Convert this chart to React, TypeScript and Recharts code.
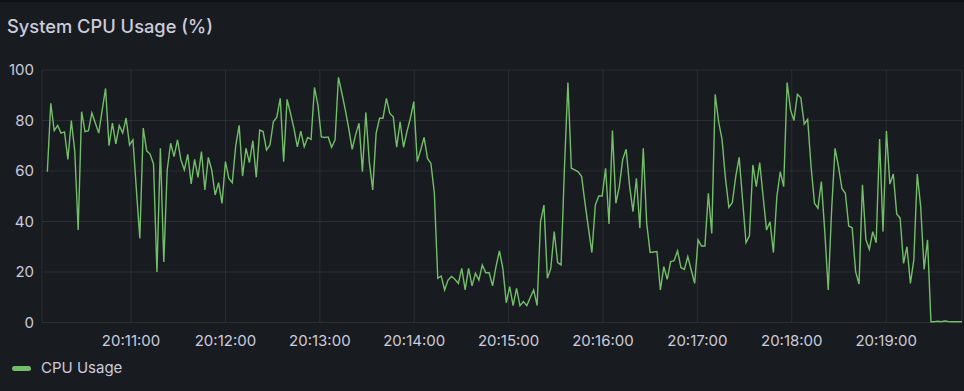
import React from "react";
import { LineChart, Line, XAxis, YAxis, CartesianGrid } from "recharts";

const cpuUsage = [
  59.7, 86.8, 76, 78, 75, 75.5, 64.6, 80, 68, 36.6, 83.5, 75.6, 76, 83, 79, 75, 84, 92.7, 70, 79,
  70.7, 78, 75, 81, 70.3, 72.3, 52.5, 33.3, 77, 68, 66.7, 62.8, 20, 69, 24, 60.4, 71, 65.7, 72.3, 64.4,
  60.4, 66.6, 54.9, 64.6, 57.5, 67.7, 52.5, 65.4, 60.4, 50.5, 55.4, 47.2, 63.7, 57.1, 55.4, 69.9, 78.1, 58, 69, 63.3,
  72, 57.5, 76.2, 75.6, 68.3, 70.3, 79.5, 81.3, 88.8, 63.7, 88.4, 82.8, 76.9, 69.6, 75.8, 69.6, 73.3, 72.5, 93.1, 86.1,
  73.5, 73.3, 73.5, 69.4, 72.3, 97.1, 90.8, 84.2, 76.9, 68.6, 74.3, 78.9, 59.7, 83.2, 63.7, 52.5, 74.9, 80.9, 80.9, 88.8,
  82.8, 81.5, 69.4, 79.5, 69.4, 75.6, 80.9, 87.5, 63.7, 68.3, 73.3, 65, 63, 51.2, 17.5, 18.4, 12.9, 16.8, 18.2, 17.1,
  15.5, 21.4, 12.9, 21.4, 14.5, 19.5, 16.8, 22.8, 19.7, 19.7, 14.5, 22.1, 28.4, 21.4, 7.8, 14.2, 6.7, 13.5, 6.7, 8.3,
  6.7, 9.9, 12.9, 6.7, 39.9, 46.5, 17.5, 21.4, 36, 23.7, 22.8, 61.7, 95, 61.1, 60.4, 59.7, 57.8, 47.2, 37.3, 27.7,
  46.5, 50.1, 50.1, 61.1, 39, 76, 47.2, 53.8, 64.6, 68.6, 54.1, 43.9, 57.1, 37.3, 69, 39.3, 27.7, 27.9, 28.1, 12.9,
  22.1, 17.1, 24.1, 24.5, 28.4, 21.8, 21, 26.1, 20.8, 15.5, 32.7, 30.3, 30.3, 51.2, 35.3, 90.4, 79.5, 72.5, 57.1, 45.6,
  47.5, 57.8, 65.4, 48.5, 31.6, 34.3, 62.4, 53.8, 63.3, 49.8, 36.6, 39.9, 27.7, 49.8, 59.7, 53.8, 95, 84.2, 80, 90.4,
  89, 78.6, 80.5, 61.7, 47.2, 45.2, 55.8, 36, 12.9, 44.6, 69, 61.7, 53.1, 51.2, 38.2, 37.5, 20.1, 15.2, 54.5, 32.9,
  29, 36, 31.6, 72.7, 36, 75.8, 54.8, 58.8, 43, 41.3, 23.4, 30, 15.5, 24.8, 58.8, 45.9, 21, 32.7, 0.3, 0.3,
  0.5, 0.3, 0.6, 0.4, 0.3, 0.3, 0.3, 0.3, 0.3,
];

const startTime = "20:10:06.8";
const stepSeconds = 2.177;
const rangeStart = "20:10:03.4";
const rangeEnd = "20:19:48.2";
const timeTicks = ["20:11:00", "20:12:00", "20:13:00", "20:14:00", "20:15:00", "20:16:00", "20:17:00", "20:18:00", "20:19:00"];
const valueTicks = [0, 20, 40, 60, 80, 100];
const seriesName = "CPU Usage";
const title = "System CPU Usage (%)";

const toSec = (s: string) => {
  const [h, m, sec] = s.split(":").map(Number);
  return h * 3600 + m * 60 + sec;
};
const fmt = (v: number) => {
  const t = Math.round(v);
  const h = Math.floor(t / 3600);
  const m = Math.floor((t % 3600) / 60);
  const s = t % 60;
  const p = (n: number) => String(n).padStart(2, "0");
  return `${p(h)}:${p(m)}:${p(s)}`;
};

const t0 = toSec(startTime);
const data = cpuUsage.map((v, i) => ({ t: t0 + i * stepSeconds, cpu: v }));

const FONT = "Inter, 'Noto Sans', sans-serif";
const TEXT = "#ccccdc";
const GREEN = "#73bf69";

export default function App() {
  return (
    <div style={{ position: "fixed", left: 0, top: 0, width: 964, height: 391, background: "#111217", fontFamily: FONT }}>
      <div style={{ position: "absolute", left: 0, top: 2, width: 964, height: 389, background: "#181b1f" }} />
      <div style={{ position: "absolute", left: 7, top: 14.5, fontSize: 18.3, lineHeight: "22px", fontWeight: 500, color: TEXT }}>
        {title}
      </div>
      <div style={{ position: "absolute", left: 0, top: 0 }}>
        <LineChart width={964} height={391} data={data} margin={{ top: 70, right: 2, bottom: 48.5, left: 0 }}>
          <CartesianGrid stroke="rgba(204,204,220,0.1)" />
          <XAxis
            dataKey="t"
            type="number"
            domain={[toSec(rangeStart), toSec(rangeEnd)]}
            ticks={timeTicks.map(toSec)}
            tickFormatter={fmt}
            height={20}
            axisLine={false}
            tickLine={false}
            tickMargin={7}
            tick={{ fill: TEXT, fontSize: 15, fontFamily: FONT }}
            allowDataOverflow
          />
          <YAxis
            domain={[0, 100]}
            ticks={valueTicks}
            width={42}
            axisLine={false}
            tickLine={false}
            tick={{ fill: TEXT, fontSize: 15, fontFamily: FONT }}
          />
          <Line
            type="linear"
            dataKey="cpu"
            name={seriesName}
            stroke={GREEN}
            strokeWidth={1.4}
            dot={false}
            isAnimationActive={false}
          />
        </LineChart>
      </div>
      <div style={{ position: "absolute", left: 12, top: 366, width: 19, height: 5, borderRadius: 3, background: GREEN }} />
      <div style={{ position: "absolute", left: 41, top: 358.6, fontSize: 15, lineHeight: "18px", color: TEXT }}>{seriesName}</div>
    </div>
  );
}
